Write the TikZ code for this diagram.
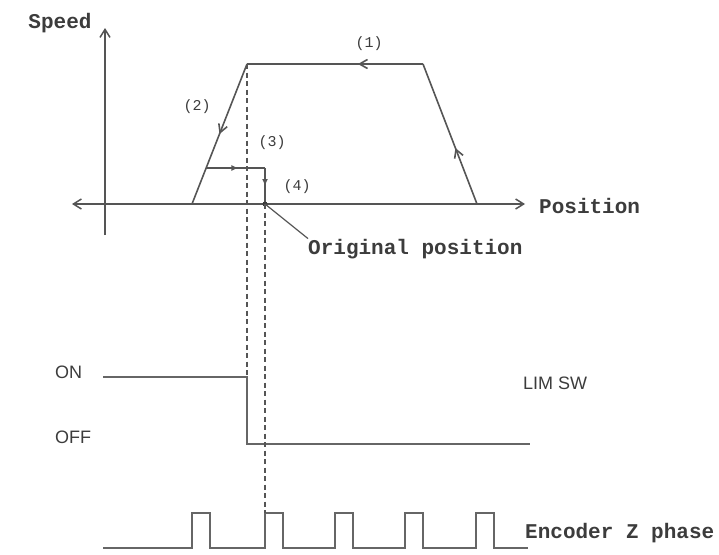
\documentclass[tikz,border=0pt]{standalone}
\usepackage{fontspec}
\setmonofont{Liberation Mono}
\setsansfont{Liberation Sans}
\usetikzlibrary{arrows.meta,decorations.markings}
\definecolor{tinta}{HTML}{3C3C3C}
\definecolor{tinta2}{HTML}{555555}
\definecolor{tenue}{HTML}{666666}
\tikzset{
  eje/.style={draw=tinta2,line width=1.5pt},
  perfil/.style={draw=tinta2,line width=1.6pt},
  guia/.style={draw=tinta2,line width=1.1pt,dash pattern=on 5pt off 3.5pt},
  senal/.style={draw=tenue,line width=1.6pt},
  rotulo/.style={font=\ttfamily\bfseries\fontsize{21}{21}\selectfont,text=tinta,inner sep=0pt},
  tramo/.style={font=\ttfamily\fontsize{15}{15}\selectfont,text=tinta,inner sep=0pt},
  nivel/.style={font=\sffamily\fontsize{18}{18}\selectfont,text=tinta,inner sep=0pt},
  punta/.tip={Straight Barb[length=8pt,width=10pt]},
  flechamed/.style={postaction={decorate},decoration={markings,mark=at position #1 with {\arrow{Straight Barb[length=8pt,width=9pt]}}}},
  flechallena/.style={postaction={decorate},decoration={markings,mark=at position #1 with {\arrow{Latex[length=7pt,width=6pt]}}}},
}
\begin{document}
\begin{tikzpicture}[x=1pt,y=-1pt]
\useasboundingbox (0,0) rectangle (719,554);
% axes
\coordinate (ejeIzq) at (72,204);
\coordinate (ejeDer) at (525,204);
\coordinate (ejeArr) at (105,28);
\coordinate (ejeAba) at (105,235);
\draw[eje,-punta] (ejeAba) -- (ejeArr);
\draw[eje,punta-punta] (ejeIzq) -- (ejeDer);
\node[rotulo,anchor=base] (vel) at (60,28) {Speed};
\node[rotulo,anchor=base west] (pos) at (539,213) {Position};
% speed profile
\coordinate (p1) at (192,204);
\coordinate (p2) at (247,64);
\coordinate (p3) at (423,64);
\coordinate (p4) at (477,204);
\coordinate (s1) at (206,168);
\coordinate (s2) at (265,168);
\coordinate (orig) at (265,204);
\draw[perfil,flechamed=0.4] (p4) -- (p3);
\draw[perfil,flechamed=0.37] (p3) -- (p2);
\draw[perfil,flechamed=0.5] (p2) -- (p1);
\draw[perfil,flechallena=0.55] (s1) -- (s2);
\draw[perfil,flechallena=0.5] (s2) -- (orig);
\fill[tinta] (orig) circle (2.5pt);
\node[tramo] (t1) at (369,44) {(1)};
\node[tramo] (t2) at (197,107) {(2)};
\node[tramo] (t3) at (272,143) {(3)};
\node[tramo] (t4) at (297,187) {(4)};
\node[rotulo,anchor=base west] (origen) at (308,254) {Original position};
\draw[perfil,line width=1.2pt] (orig) -- (origen.north west);
% limit switch
\coordinate (on0) at (103,377);
\coordinate (on1) at (247,377);
\coordinate (off0) at (247,444);
\coordinate (off1) at (530,444);
\draw[senal] (on0) -- (on1) -- (off0) -- (off1);
\node[nivel,anchor=west] (on) at (55,372) {ON};
\node[nivel,anchor=west] (off) at (55,437) {OFF};
\node[nivel,anchor=west] (lim) at (523,383) {LIM SW};
% encoder Z phase
\coordinate (z2) at (265,513);
\draw[senal] (103,548) foreach \x in {192,265,335,405,476} { -- (\x,548) -- (\x,513) -- (\x+18,513) -- (\x+18,548) } -- (528,548);
\node[rotulo,anchor=base west] (enc) at (525,538) {Encoder Z phase};
% guide lines
\draw[guia] (p2) -- (on1);
\draw[guia] (orig) -- (z2);
\end{tikzpicture}
\end{document}
